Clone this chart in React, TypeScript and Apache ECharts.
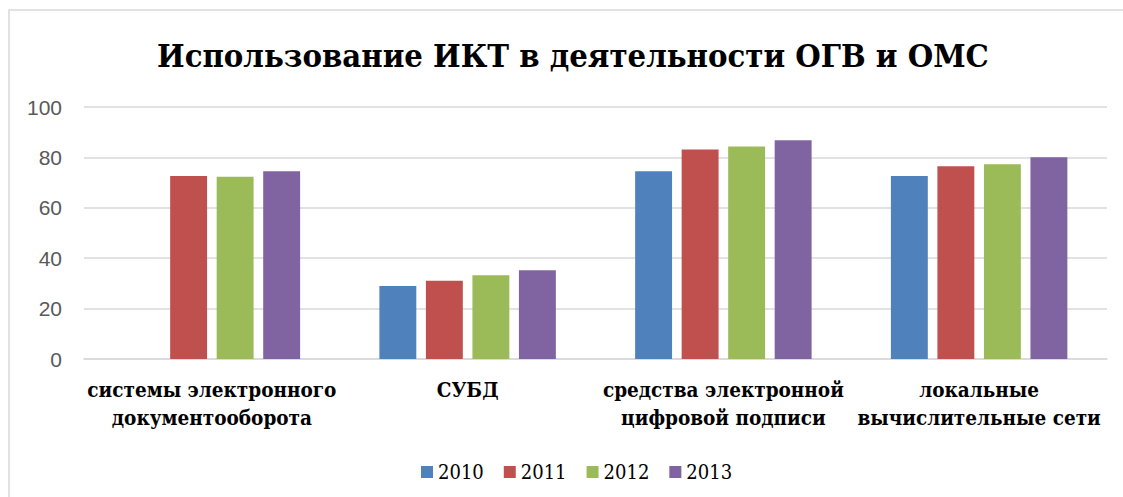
import React, { useEffect, useRef } from "react";
import * as echarts from "echarts";

const categories = [
  "системы электронного\nдокументооборота",
  "СУБД",
  "средства электронной\nцифровой подписи",
  "локальные\nвычислительные сети",
];
const years = ["2010", "2011", "2012", "2013"];
const s2010 = [null, 29.0, 74.5, 72.6];
const s2011 = [72.6, 31.1, 83.1, 76.5];
const s2012 = [72.3, 33.2, 84.3, 77.3];
const s2013 = [74.5, 35.2, 86.8, 80.1];
const yTicks = { min: 0, max: 100, interval: 20 };
const colors = ["#4f81bd", "#c0504d", "#9bbb59", "#8064a2"];

const SERIF = "DejaVu Serif Condensed";

export default function App() {
  const ref = useRef<HTMLDivElement>(null);
  useEffect(() => {
    if (!ref.current) return;
    const chart = echarts.init(ref.current, null, { renderer: "svg" });
    const seriesData = [s2010, s2011, s2012, s2013];
    chart.setOption({
      animation: false,
      backgroundColor: "#ffffff",
      title: {
        text: "Использование ИКТ в деятельности ОГВ и ОМС",
        left: 152,
        top: 34,
        textStyle: {
          fontFamily: SERIF,
          fontWeight: "bold",
          fontSize: 32.5,
          color: "#000000",
        },
      },
      graphic: [
        {
          type: "rect",
          shape: { x: 9, y: 10, width: 1130, height: 500 },
          style: { fill: "none", stroke: "#d9d9d9", lineWidth: 1.5 },
          silent: true,
        },
      ],
      legend: {
        data: years,
        left: 416,
        top: 457,
        itemWidth: 12,
        itemHeight: 12,
        itemGap: 20,
        icon: "rect",
        textStyle: {
          fontFamily: SERIF,
          fontWeight: "normal",
          fontSize: 20,
          color: "#000000",
        },
      },
      grid: { left: 84, right: 16, top: 107, bottom: 138 },
      xAxis: {
        type: "category",
        data: categories,
        axisLine: { show: true, lineStyle: { color: "#d9d9d9", width: 1.5 } },
        axisTick: { show: false },
        axisLabel: {
          interval: 0,
          margin: 17,
          fontFamily: SERIF,
          fontWeight: "bold",
          fontSize: 20.5,
          lineHeight: 28,
          color: "#000000",
        },
      },
      yAxis: {
        type: "value",
        min: yTicks.min,
        max: yTicks.max,
        interval: yTicks.interval,
        axisLine: { show: false },
        axisTick: { show: false },
        splitLine: { lineStyle: { color: "#d9d9d9", width: 1.5 } },
        axisLabel: {
          margin: 22,
          fontFamily: "Liberation Sans",
          fontSize: 21,
          color: "#595959",
        },
      },
      series: years.map((y, i) => ({
        name: y,
        type: "bar",
        data: seriesData[i],
        barGap: "26%",
        barCategoryGap: "31%",
        itemStyle: { color: colors[i] },
      })),
    });
    return () => chart.dispose();
  }, []);
  return (
    <div
      ref={ref}
      style={{ position: "absolute", left: 0, top: 0, width: 1123, height: 497 }}
    />
  );
}
